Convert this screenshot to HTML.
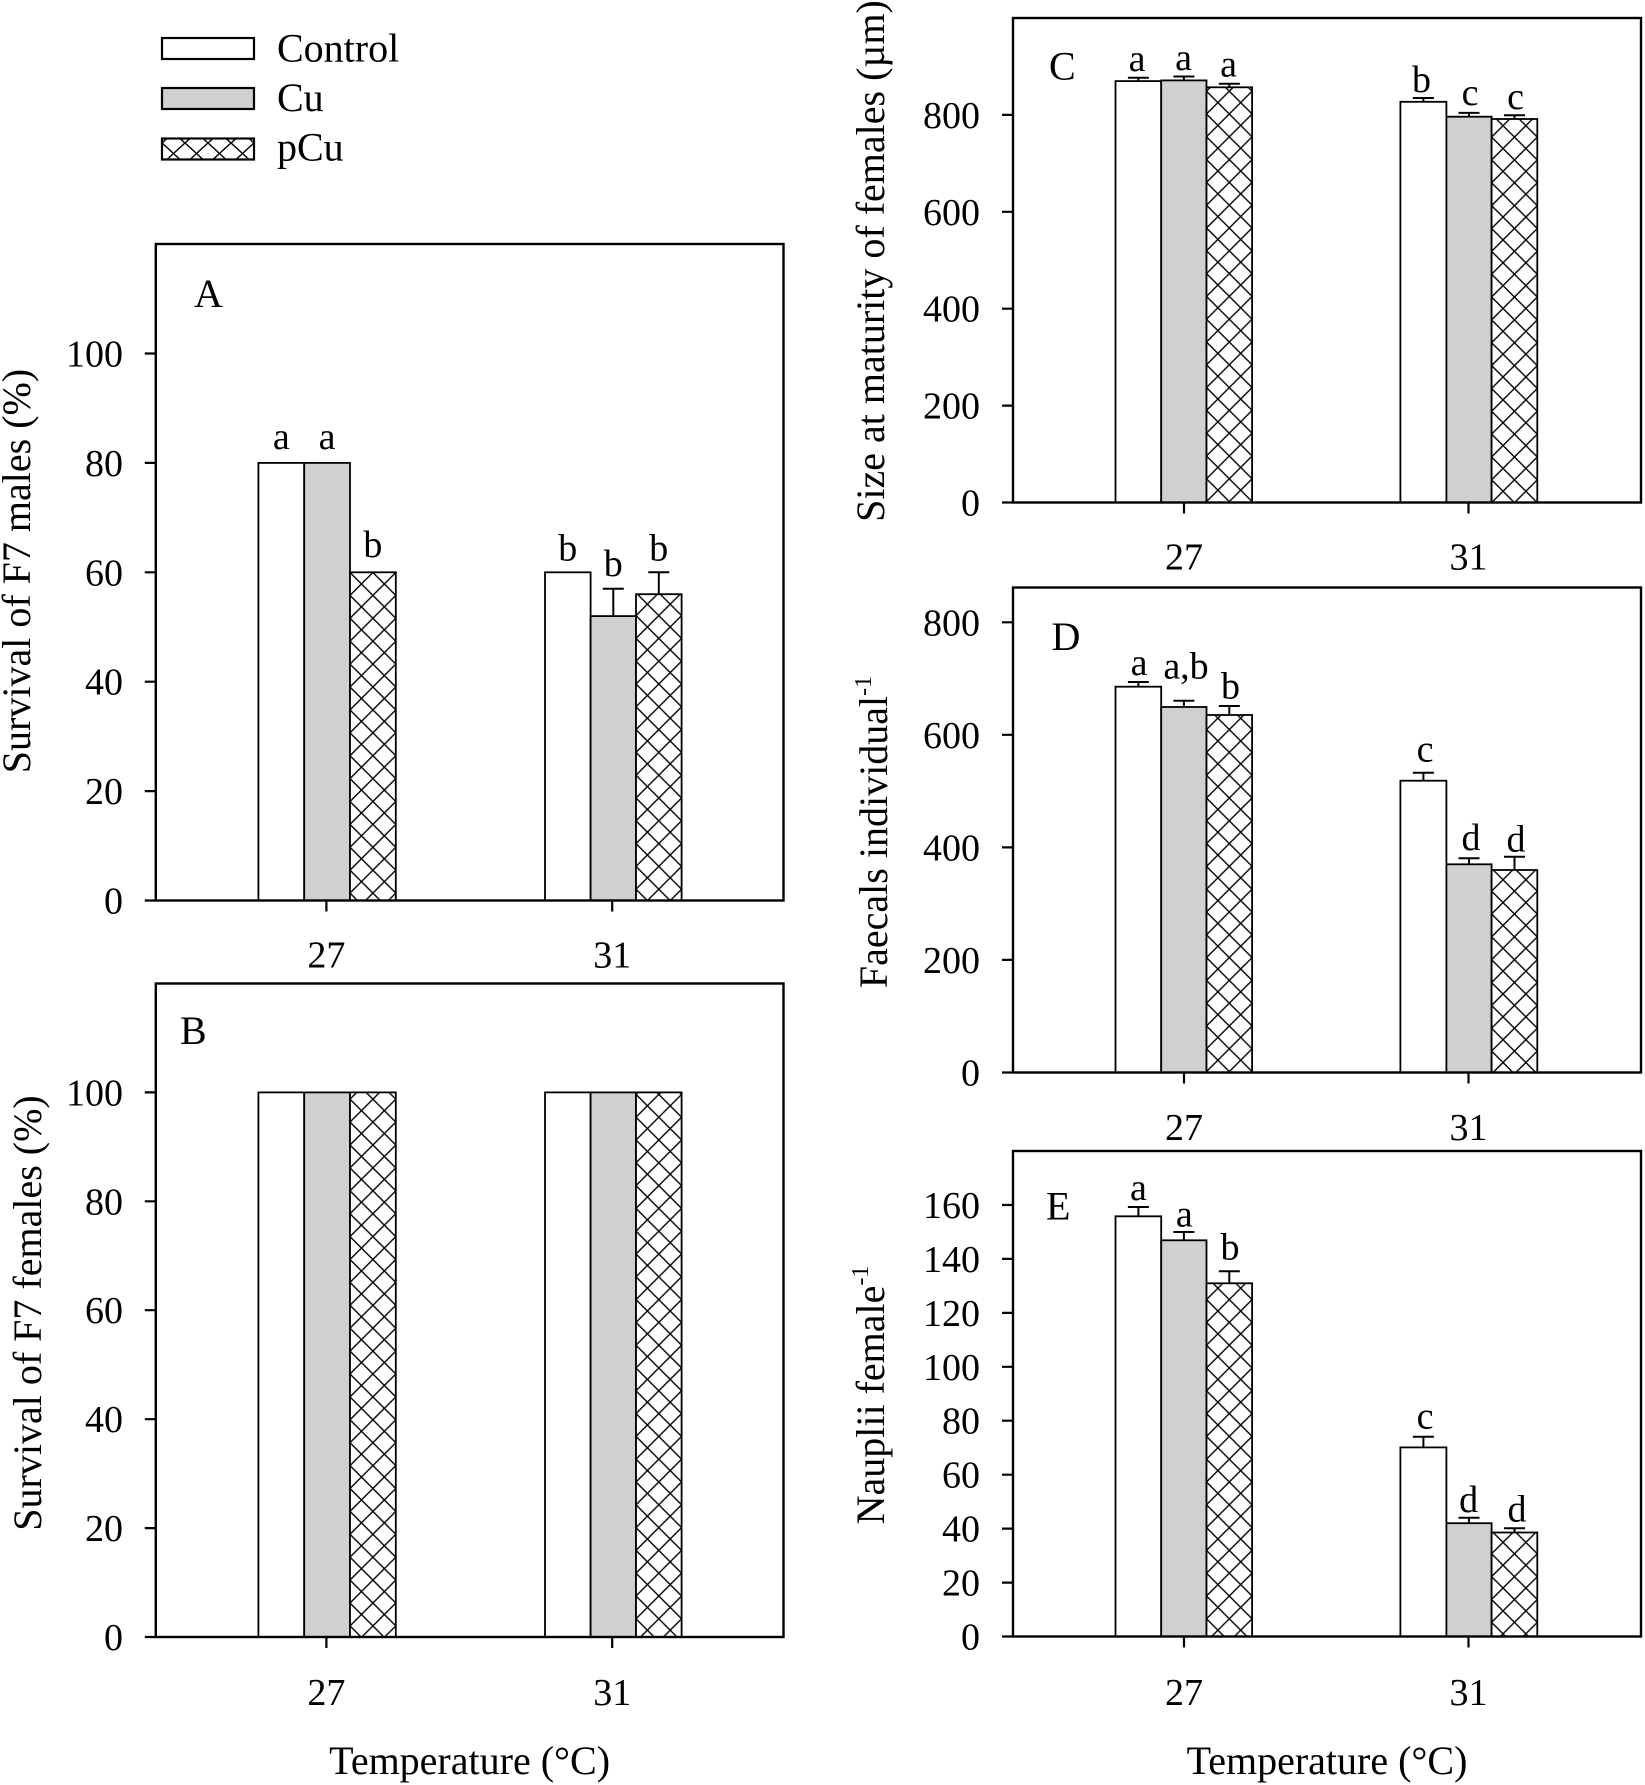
<!DOCTYPE html>
<html><head><meta charset="utf-8"><style>
html,body{margin:0;padding:0;background:#fff;}
svg{display:block;}
text{font-family:"Liberation Serif","Times New Roman",serif;fill:#000;}
</style></head><body>
<svg xmlns="http://www.w3.org/2000/svg" width="1645" height="1785" viewBox="0 0 1645 1785">
<defs>
<pattern id="pl" patternUnits="userSpaceOnUse" x="162" y="38" width="23" height="21"><rect width="23" height="21" fill="#fff"/><path d="M-1,-1L24,22M24,-1L-1,22" stroke="#000" stroke-width="1.4"/></pattern>
<pattern id="pa" patternUnits="userSpaceOnUse" x="350" y="0" width="22.9" height="22.9"><rect width="22.9" height="22.9" fill="#fff"/><path d="M-1,-1L23.9,23.9M23.9,-1L-1,23.9" stroke="#000" stroke-width="1.4"/></pattern>
<pattern id="pb" patternUnits="userSpaceOnUse" x="636" y="0" width="22.8" height="22.8"><rect width="22.8" height="22.8" fill="#fff"/><path d="M-1,-1L23.8,23.8M23.8,-1L-1,23.8" stroke="#000" stroke-width="1.4"/></pattern>
<pattern id="pc" patternUnits="userSpaceOnUse" x="1206.5" y="0" width="22.8" height="22.8"><rect width="22.8" height="22.8" fill="#fff"/><path d="M-1,-1L23.8,23.8M23.8,-1L-1,23.8" stroke="#000" stroke-width="1.4"/></pattern>
<pattern id="pd" patternUnits="userSpaceOnUse" x="1491.6" y="0" width="22.85" height="22.85"><rect width="22.85" height="22.85" fill="#fff"/><path d="M-1,-1L23.85,23.85M23.85,-1L-1,23.85" stroke="#000" stroke-width="1.4"/></pattern>
</defs>
<rect width="1645" height="1785" fill="#fff"/>

<!-- Legend -->
<g stroke="#000" stroke-width="2.2">
<rect x="162" y="38" width="92" height="21" fill="#fff"/>
<rect x="162" y="88" width="92" height="21" fill="#d0d0d0"/>
<rect x="162" y="138.5" width="92" height="21" fill="url(#pl)"/>
</g>
<text x="277" y="61.5" font-size="40">Control</text>
<text x="277" y="111" font-size="40">Cu</text>
<text x="277" y="160.5" font-size="40">pCu</text>

<!-- ===== Panel A ===== -->
<g stroke="#000" stroke-width="1.8">
<rect x="258.4" y="462.9" width="45.8" height="437.6" fill="#fff"/>
<rect x="304.2" y="462.9" width="45.8" height="437.6" fill="#d0d0d0"/>
<rect x="350" y="572.3" width="45.8" height="328.2" fill="url(#pa)"/>
<rect x="545" y="572.3" width="45.6" height="328.2" fill="#fff"/>
<rect x="590.6" y="616.1" width="45.4" height="284.4" fill="#d0d0d0"/>
<rect x="636" y="594.2" width="45.6" height="306.3" fill="url(#pb)"/>
</g>
<g stroke="#000" stroke-width="2" fill="none">
<path d="M613.3,616.1V588.7M602.8,588.7H623.8"/>
<path d="M658.8,594.2V572.3M648.3,572.3H669.3"/>
</g>
<rect x="155.8" y="244" width="627.7" height="656.5" fill="none" stroke="#000" stroke-width="2.4"/>
<g stroke="#000" stroke-width="2.2">
<path d="M144.8,900.5H155.8M144.8,791.1H155.8M144.8,681.7H155.8M144.8,572.3H155.8M144.8,462.9H155.8M144.8,353.5H155.8"/>
<path d="M326.4,900.5V911.5M612.2,900.5V911.5"/>
</g>
<g font-size="38" text-anchor="end">
<text x="123" y="913.5">0</text>
<text x="123" y="804.1">20</text>
<text x="123" y="694.7">40</text>
<text x="123" y="585.3">60</text>
<text x="123" y="475.9">80</text>
<text x="123" y="366.5">100</text>
</g>
<g font-size="38" text-anchor="middle">
<text x="326.4" y="967.5">27</text>
<text x="612.2" y="967.5">31</text>
<text x="281.3" y="449">a</text>
<text x="327.1" y="449">a</text>
<text x="372.9" y="557">b</text>
<text x="567.8" y="560.6">b</text>
<text x="613.3" y="576">b</text>
<text x="658.8" y="560.6">b</text>
</g>
<text x="194" y="307" font-size="40">A</text>
<text transform="translate(30,571) rotate(-90)" text-anchor="middle" font-size="40">Survival of F7 males (%)</text>

<!-- ===== Panel B ===== -->
<g stroke="#000" stroke-width="1.8">
<rect x="258.4" y="1092.4" width="45.8" height="544.6" fill="#fff"/>
<rect x="304.2" y="1092.4" width="45.8" height="544.6" fill="#d0d0d0"/>
<rect x="350" y="1092.4" width="45.8" height="544.6" fill="url(#pa)"/>
<rect x="545" y="1092.4" width="45.6" height="544.6" fill="#fff"/>
<rect x="590.6" y="1092.4" width="45.4" height="544.6" fill="#d0d0d0"/>
<rect x="636" y="1092.4" width="45.6" height="544.6" fill="url(#pb)"/>
</g>
<rect x="155.8" y="983.5" width="627.7" height="653.5" fill="none" stroke="#000" stroke-width="2.4"/>
<g stroke="#000" stroke-width="2.2">
<path d="M144.8,1637H155.8M144.8,1528.1H155.8M144.8,1419.2H155.8M144.8,1310.2H155.8M144.8,1201.3H155.8M144.8,1092.4H155.8"/>
<path d="M326.4,1637V1648M612.2,1637V1648"/>
</g>
<g font-size="38" text-anchor="end">
<text x="123" y="1650">0</text>
<text x="123" y="1541.1">20</text>
<text x="123" y="1432.2">40</text>
<text x="123" y="1323.2">60</text>
<text x="123" y="1214.3">80</text>
<text x="123" y="1105.4">100</text>
</g>
<g font-size="38" text-anchor="middle">
<text x="326.4" y="1705">27</text>
<text x="612.2" y="1705">31</text>
</g>
<text x="180" y="1044" font-size="40">B</text>
<text transform="translate(41,1313) rotate(-90)" text-anchor="middle" font-size="40">Survival of F7 females (%)</text>
<text x="469.6" y="1774" text-anchor="middle" font-size="40">Temperature (°C)</text>

<!-- ===== Panel C ===== -->
<g stroke="#000" stroke-width="1.8">
<rect x="1115.5" y="81.1" width="45.7" height="421.4" fill="#fff"/>
<rect x="1161.2" y="80.4" width="45.3" height="422.1" fill="#d0d0d0"/>
<rect x="1206.5" y="87.3" width="45.6" height="415.2" fill="url(#pc)"/>
<rect x="1400.4" y="101.8" width="46" height="400.7" fill="#fff"/>
<rect x="1446.4" y="116.7" width="45.2" height="385.8" fill="#d0d0d0"/>
<rect x="1491.6" y="119" width="45.7" height="383.5" fill="url(#pd)"/>
</g>
<g stroke="#000" stroke-width="2" fill="none">
<path d="M1138.4,81.1V77.7M1127.9,77.7H1148.9"/>
<path d="M1183.9,80.4V76.5M1173.4,76.5H1194.4"/>
<path d="M1229.3,87.3V83.8M1218.8,83.8H1239.8"/>
<path d="M1423.4,101.8V98M1412.9,98H1433.9"/>
<path d="M1469,116.7V112.9M1458.5,112.9H1479.5"/>
<path d="M1514.5,119V115.2M1504,115.2H1525"/>
</g>
<rect x="1013" y="18" width="628" height="484.5" fill="none" stroke="#000" stroke-width="2.4"/>
<g stroke="#000" stroke-width="2.2">
<path d="M1002,502.5H1013M1002,405.6H1013M1002,308.7H1013M1002,211.8H1013M1002,114.9H1013"/>
<path d="M1184,502.5V513.5M1468.5,502.5V513.5"/>
</g>
<g font-size="38" text-anchor="end">
<text x="980" y="515.5">0</text>
<text x="980" y="418.6">200</text>
<text x="980" y="321.7">400</text>
<text x="980" y="224.8">600</text>
<text x="980" y="127.9">800</text>
</g>
<g font-size="38" text-anchor="middle">
<text x="1184" y="569.5">27</text>
<text x="1468.5" y="569.5">31</text>
<text x="1137" y="70.8">a</text>
<text x="1183.5" y="70">a</text>
<text x="1228.5" y="76.5">a</text>
<text x="1421.5" y="91.8">b</text>
<text x="1470" y="105.2">c</text>
<text x="1515.5" y="109">c</text>
</g>
<text x="1049" y="79.6" font-size="40">C</text>
<text transform="translate(884,261) rotate(-90)" text-anchor="middle" font-size="40">Size at maturity of females (µm)</text>

<!-- ===== Panel D ===== -->
<g stroke="#000" stroke-width="1.8">
<rect x="1115.5" y="686.7" width="45.7" height="385.8" fill="#fff"/>
<rect x="1161.2" y="707" width="45.3" height="365.5" fill="#d0d0d0"/>
<rect x="1206.5" y="715" width="45.6" height="357.5" fill="url(#pc)"/>
<rect x="1400.4" y="780.7" width="46" height="291.8" fill="#fff"/>
<rect x="1446.4" y="864.3" width="45.2" height="208.2" fill="#d0d0d0"/>
<rect x="1491.6" y="870" width="45.7" height="202.5" fill="url(#pd)"/>
</g>
<g stroke="#000" stroke-width="2" fill="none">
<path d="M1138.4,686.7V682M1127.9,682H1148.9"/>
<path d="M1183.9,707V700.7M1173.4,700.7H1194.4"/>
<path d="M1229.3,715V706M1218.8,706H1239.8"/>
<path d="M1423.4,780.7V772.7M1412.9,772.7H1433.9"/>
<path d="M1469,864.3V858.3M1458.5,858.3H1479.5"/>
<path d="M1514.5,870V856.7M1504,856.7H1525"/>
</g>
<rect x="1013" y="587.5" width="628" height="485" fill="none" stroke="#000" stroke-width="2.4"/>
<g stroke="#000" stroke-width="2.2">
<path d="M1002,1072.5H1013M1002,959.9H1013M1002,847.4H1013M1002,734.8H1013M1002,622.3H1013"/>
<path d="M1184,1072.5V1083.5M1468.5,1072.5V1083.5"/>
</g>
<g font-size="38" text-anchor="end">
<text x="980" y="1085.5">0</text>
<text x="980" y="972.9">200</text>
<text x="980" y="860.4">400</text>
<text x="980" y="747.8">600</text>
<text x="980" y="635.3">800</text>
</g>
<g font-size="38" text-anchor="middle">
<text x="1184" y="1140">27</text>
<text x="1468.5" y="1140">31</text>
<text x="1139" y="675">a</text>
<text x="1186" y="678.3">a,b</text>
<text x="1230.5" y="698.3">b</text>
<text x="1425" y="761.7">c</text>
<text x="1471" y="850">d</text>
<text x="1516" y="851.7">d</text>
</g>
<text x="1051.5" y="650" font-size="40">D</text>
<text transform="translate(887,832) rotate(-90)" text-anchor="middle" font-size="40">Faecals individual<tspan dy="-16" font-size="24">-1</tspan></text>

<!-- ===== Panel E ===== -->
<g stroke="#000" stroke-width="1.8">
<rect x="1115.5" y="1216.3" width="45.7" height="420.2" fill="#fff"/>
<rect x="1161.2" y="1240.3" width="45.3" height="396.2" fill="#d0d0d0"/>
<rect x="1206.5" y="1283.3" width="45.6" height="353.2" fill="url(#pc)"/>
<rect x="1400.4" y="1447.4" width="46" height="189.1" fill="#fff"/>
<rect x="1446.4" y="1523.2" width="45.2" height="113.3" fill="#d0d0d0"/>
<rect x="1491.6" y="1532.5" width="45.7" height="104" fill="url(#pd)"/>
</g>
<g stroke="#000" stroke-width="2" fill="none">
<path d="M1138.4,1216.3V1207M1127.9,1207H1148.9"/>
<path d="M1183.9,1240.3V1232M1173.4,1232H1194.4"/>
<path d="M1229.3,1283.3V1271.3M1218.8,1271.3H1239.8"/>
<path d="M1423.4,1447.4V1436.8M1412.9,1436.8H1433.9"/>
<path d="M1469,1523.2V1517.7M1458.5,1517.7H1479.5"/>
<path d="M1514.5,1532.5V1528.3M1504,1528.3H1525"/>
</g>
<rect x="1013" y="1151" width="628" height="485.5" fill="none" stroke="#000" stroke-width="2.4"/>
<g stroke="#000" stroke-width="2.2">
<path d="M1002,1636.5H1013M1002,1582.6H1013M1002,1528.6H1013M1002,1474.7H1013M1002,1420.7H1013M1002,1366.8H1013M1002,1312.9H1013M1002,1258.9H1013M1002,1205H1013"/>
<path d="M1184,1636.5V1647.5M1468.5,1636.5V1647.5"/>
</g>
<g font-size="38" text-anchor="end">
<text x="980" y="1649.5">0</text>
<text x="980" y="1595.6">20</text>
<text x="980" y="1541.6">40</text>
<text x="980" y="1487.7">60</text>
<text x="980" y="1433.7">80</text>
<text x="980" y="1379.8">100</text>
<text x="980" y="1325.9">120</text>
<text x="980" y="1271.9">140</text>
<text x="980" y="1218">160</text>
</g>
<g font-size="38" text-anchor="middle">
<text x="1184" y="1705">27</text>
<text x="1468.5" y="1705">31</text>
<text x="1138.4" y="1200.1">a</text>
<text x="1184.3" y="1226.4">a</text>
<text x="1230" y="1259.7">b</text>
<text x="1425" y="1428.5">c</text>
<text x="1468.6" y="1512.1">d</text>
<text x="1517" y="1521.4">d</text>
</g>
<text x="1046" y="1219.5" font-size="40">E</text>
<text transform="translate(884,1395) rotate(-90)" text-anchor="middle" font-size="40">Nauplii female<tspan dy="-16" font-size="24">-1</tspan></text>
<text x="1327" y="1774" text-anchor="middle" font-size="40">Temperature (°C)</text>
</svg>
</body></html>
